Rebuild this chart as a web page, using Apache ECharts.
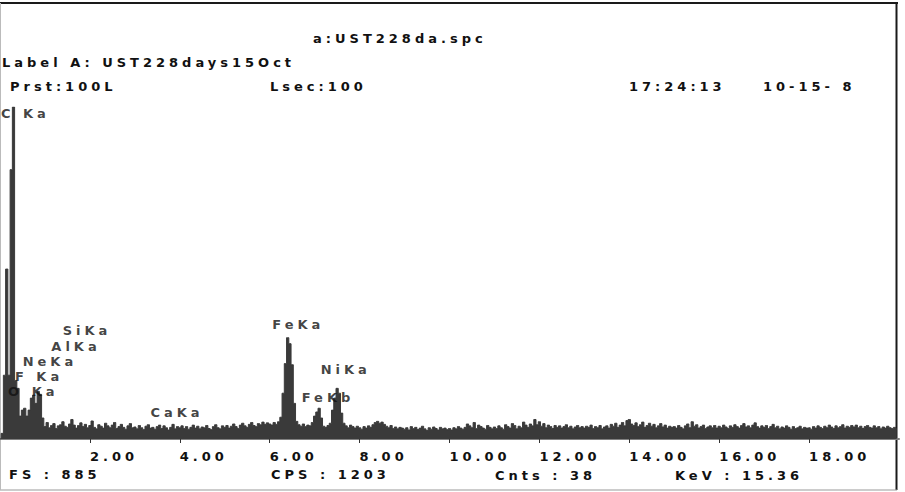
<!DOCTYPE html>
<html>
<head>
<meta charset="utf-8">
<title>a:UST228da.spc</title>
<script src="https://cdn.jsdelivr.net/npm/echarts@6/dist/echarts.min.js"></script>
<style>
  body { margin: 0; background: #fff; }
  #main { width: 905px; height: 492px; }
  /* wide, spaced lettering of the instrument printout */
  #main text { letter-spacing: 4px; }
</style>
</head>
<body>
<div id="main"></div>
<script>
// ---- data ----
var chanWidth = 0.05; // keV per channel
var counts = [
  // 0 - 1 keV
  0, 15, 170, 453, 170, 718, 885, 156, 135, 61, 77, 82, 61, 77, 109, 117, 95, 127, 119, 56,
  // 1 - 2
  33, 44, 30, 36, 41, 28, 35, 38, 46, 34, 31, 40, 52, 37, 29, 36, 43, 33, 39, 30,
  // 2 - 3
  36, 48, 31, 27, 38, 34, 29, 42, 35, 30, 37, 44, 28, 33, 39, 31, 26, 35, 41, 30,
  // 3 - 4
  32, 27, 36, 30, 25, 34, 38, 29, 31, 26, 33, 37, 28, 35, 30, 24, 31, 39, 27, 33,
  // 4 - 5
  30, 35, 28, 33, 26, 31, 37, 29, 34, 27, 32, 30, 36, 28, 25, 33, 38, 30, 27, 35,
  // 5 - 6
  31, 36, 29, 34, 40, 33, 28, 37, 42, 35, 31, 39, 44, 36, 33, 41, 38, 45, 39, 43,
  // 6 - 7
  40, 37, 44, 39, 46, 58, 122, 201, 270, 254, 198, 95, 47, 38, 34, 40, 33, 37, 35, 44,
  // 7 - 8
  61, 72, 82, 56, 34, 31, 36, 42, 77, 109, 135, 122, 69, 42, 35, 30, 37, 33, 29, 34,
  // 8 - 9
  30, 26, 33, 29, 35, 31, 38, 44, 47, 42, 45, 39, 34, 30, 36, 28, 32, 27, 31, 29,
  // 9 - 10
  26, 30, 24, 33, 28, 31, 25, 29, 34, 27, 23, 30, 26, 32, 28, 24, 31, 27, 29, 25,
  // 10 - 11
  28, 24, 30, 27, 33, 29, 26, 31, 40, 35, 30, 44, 28, 37, 33, 29, 26, 36, 31, 27,
  // 11 - 12
  32, 28, 35, 30, 26, 38, 33, 29, 41, 36, 27, 34, 30, 45, 37, 31, 40, 35, 52, 38,
  // 12 - 13
  46, 34, 41, 30, 37, 33, 28, 36, 31, 35, 29, 33, 38, 30, 34, 27, 32, 36, 30, 33,
  // 13 - 14
  29, 34, 31, 37, 28, 33, 30, 36, 27, 32, 35, 29, 39, 34, 42, 31, 37, 44, 35, 49,
  // 14 - 15
  52, 40, 36, 43, 33, 38, 45, 31, 36, 42, 34, 39, 30, 35, 41, 32, 37, 29, 34, 31,
  // 15 - 16
  33, 29, 36, 31, 27, 35, 40, 30, 46, 34, 38, 29, 33, 37, 28, 32, 35, 30, 36, 29,
  // 16 - 17
  34, 30, 37, 32, 28, 35, 31, 38, 33, 29, 36, 41, 32, 35, 30, 37, 43, 33, 29, 35,
  // 17 - 18
  31, 36, 28, 33, 39, 30, 34, 27, 32, 29, 35, 31, 26, 33, 28, 30, 34, 27, 31, 29,
  // 18 - 19
  30, 26, 33, 29, 35, 31, 28, 34, 30, 37, 32, 28, 35, 30, 33, 38, 29, 34, 31, 36,
  // 19 - 20
  32, 37, 30, 34, 28, 33, 36, 31, 29, 35, 30, 33, 27, 32, 29, 34, 30, 28, 31, 27
];
var fullScale = 885;

var peakNames = ['C Ka', 'O Ka', 'F Ka', 'NeKa', 'AlKa', 'SiKa', 'CaKa', 'FeKa', 'FeKb', 'NiKa'];
var peakKeV = [0.277, 0.525, 0.677, 0.849, 1.487, 1.740, 3.691, 6.404, 7.058, 7.478];
var peakLabelLevel = [867, 125, 164, 204, 246, 289, 69, 305, 109, 183];

var headerLines = ['a:UST228da.spc', 'Label A: UST228days15Oct', 'Prst:100L', 'Lsec:100', '17:24:13', '10-15- 8'];
var footerLines = ['FS : 885', 'CPS : 1203', 'Cnts : 38', 'KeV : 15.36'];

// ---- layout ----
var headerPos = [[313, 38], [2, 62], [10, 86], [270, 86], [629, 86], [763, 86]];
var footerPos = [[9, 474], [271, 474], [495, 475], [675, 475]];
var fontFam = '"DejaVu Sans", sans-serif';
var fontSz = 13;
var ink = '#111';
var fillCol = '#3a3a3a';

var spectrum = [];
for (var i = 0; i < counts.length; i++) {
  spectrum.push([+(i * chanWidth).toFixed(2), counts[i]]);
}

var peakPoints = [];
for (var p = 0; p < peakNames.length; p++) {
  var pt = { name: peakNames[p], value: [peakKeV[p], peakLabelLevel[p]] };
  // first label sits against the left edge of the printout
  if (p == 0) pt.label = { position: [-11, 0] };
  peakPoints.push(pt);
}

function textEl(str, pos) {
  return {
    type: 'text', x: pos[0], y: pos[1], silent: true, z: 10,
    style: {
      text: str, fill: ink, fontFamily: fontFam, fontSize: fontSz, fontWeight: 'bold',
      align: 'left', verticalAlign: 'middle', textAlign: 'left', textVerticalAlign: 'middle'
    }
  };
}

var graphics = [];
headerLines.forEach(function (s, k) { graphics.push(textEl(s, headerPos[k])); });
footerLines.forEach(function (s, k) { graphics.push(textEl(s, footerPos[k])); });
// printout frame
graphics.push({ type: 'line', silent: true, shape: { x1: 0, y1: 3, x2: 898, y2: 3 }, style: { stroke: '#1a1a1a', lineWidth: 2 } });
graphics.push({ type: 'line', silent: true, shape: { x1: 896.5, y1: 2, x2: 896.5, y2: 490 }, style: { stroke: '#1a1a1a', lineWidth: 2 } });
graphics.push({ type: 'line', silent: true, shape: { x1: 0, y1: 490, x2: 897, y2: 490 }, style: { stroke: '#999', lineWidth: 1 } });
graphics.push({ type: 'line', silent: true, shape: { x1: 0.5, y1: 3, x2: 0.5, y2: 490 }, style: { stroke: '#bbb', lineWidth: 1 } });

var chart = echarts.init(document.getElementById('main'), null, { renderer: 'svg' });

var option = {
  animation: false,
  backgroundColor: '#fff',
  grid: { left: -1, right: 6, top: 107, bottom: 53, containLabel: false },
  xAxis: {
    type: 'value', min: 0, max: 20, interval: 2, offset: 4,
    axisLine: { show: true, lineStyle: { color: '#808080', width: 2 } },
    axisTick: { show: true, length: 4, lineStyle: { color: '#333', width: 1 } },
    splitLine: { show: false },
    axisLabel: {
      show: true, align: 'left', margin: 7, showMinLabel: false, showMaxLabel: false,
      color: ink, fontFamily: fontFam, fontSize: fontSz, fontWeight: 'bold',
      formatter: function (v) { return v.toFixed(2); }
    }
  },
  yAxis: { type: 'value', min: 0, max: fullScale, show: false },
  graphic: graphics,
  series: [
    {
      type: 'line', step: 'middle', data: spectrum, symbol: 'none', silent: true,
      lineStyle: { color: fillCol, width: 1 },
      areaStyle: { color: fillCol, opacity: 1 }
    },
    {
      type: 'scatter', data: peakPoints, symbol: 'circle', symbolSize: 1, silent: true, z: 5,
      itemStyle: { color: 'rgba(0,0,0,0)' },
      label: {
        show: true, formatter: '{b}', position: [-15, 0], align: 'left', verticalAlign: 'middle',
        color: ink, fontFamily: fontFam, fontSize: fontSz, fontWeight: 'bold'
      }
    }
  ]
};

chart.setOption(option);
</script>
</body>
</html>
